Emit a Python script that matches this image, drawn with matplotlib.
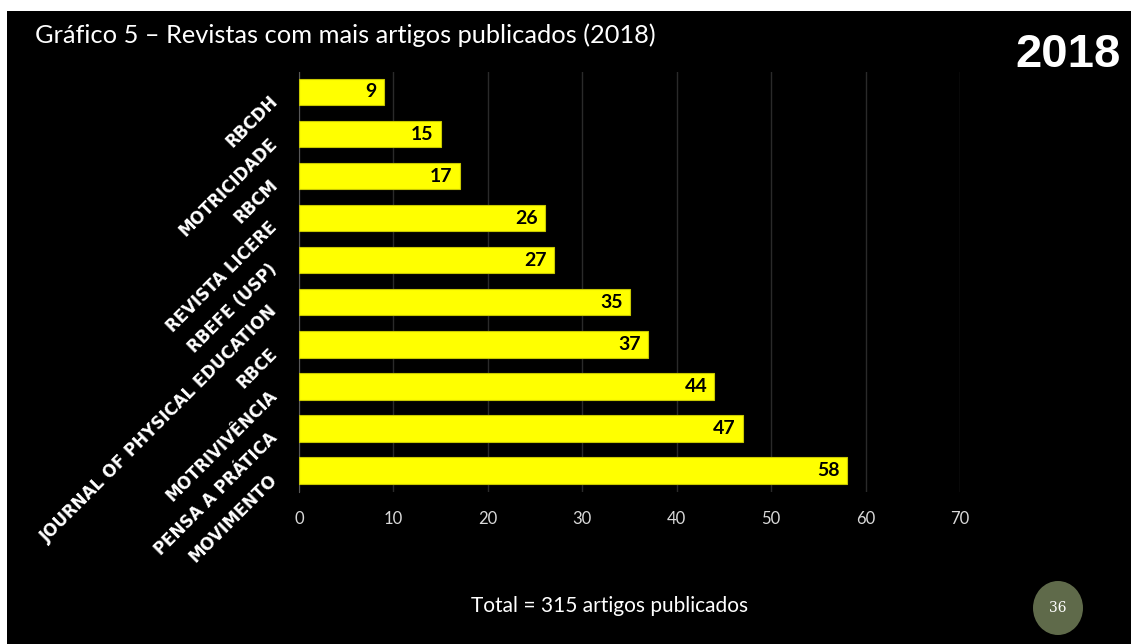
import matplotlib
matplotlib.use("Agg")
import matplotlib.pyplot as plt
from matplotlib.patches import Rectangle, Ellipse

revistas = ["RBCDH", "MOTRICIDADE", "RBCM", "REVISTA LICERE", "RBEFE (USP)",
            "JOURNAL OF PHYSICAL EDUCATION", "RBCE", "MOTRIVIVÊNCIA",
            "PENSA A PRÁTICA", "MOVIMENTO"]
artigos = [9, 15, 17, 26, 27, 35, 37, 44, 47, 58]
xticks = [0, 10, 20, 30, 40, 50, 60, 70]
titulo = "Gráfico 5 – Revistas com mais artigos publicados (2018)"
rodape = "Total = 315 artigos publicados"
pagina = "36"

W, H = 1131, 644
fig = plt.figure(figsize=(W / 100, H / 100), dpi=100, facecolor="white")
# fundo preto do slide (borda branca em cima e à esquerda)
fig.patches.append(Rectangle((7 / W, 0), 1 - 7 / W, 1 - 11 / H, transform=fig.transFigure,
                             facecolor="black", edgecolor="none", zorder=-10))

ax = fig.add_axes([299 / W, 1 - 492 / H, (960 - 299) / W, (492 - 72) / H])
ax.set_facecolor("black")
y = list(range(len(revistas)))
ax.barh(y, artigos, height=0.625, color="#ffff00", edgecolor="#c8c800", lw=0.8, zorder=3)
for yi, v in zip(y, artigos):
    ax.text(v - 0.75, yi, str(v), ha="right", va="center", fontsize=14,
            fontweight="bold", family="Lato", color="black", zorder=4)

ax.set_xlim(0, 70)
ax.set_ylim(9.51, -0.475)
ax.set_xticks(xticks)
ax.set_xticklabels([str(t) for t in xticks], family="Lato", fontsize=12, color="#d9d9d9")
ax.tick_params(axis="x", length=0, pad=14)
ax.set_yticks(y)
ax.set_yticklabels(revistas, rotation=45, ha="right", va="center", rotation_mode="anchor",
                   color="white")
for t in ax.get_yticklabels():
    t.set_fontfamily("DejaVu Sans")
    t.set_fontweight("bold")
    t.set_fontsize(12)
    t.set_verticalalignment("top")
ax.tick_params(axis="y", length=0, pad=22)
ax.grid(axis="x", color="#2a2a2a", lw=1, zorder=0)
for s in ["top", "right", "bottom"]:
    ax.spines[s].set_visible(False)
ax.spines["left"].set_color("#595959")

fig.text(35 / W, 1 - 35 / H, titulo, ha="left", va="center", fontsize=18.3,
         family="Lato", color="white")
fig.text(1121 / W, 1 - 55 / H, "2018", ha="right", va="center", fontsize=34,
         fontweight="bold", family="Liberation Sans", color="white")
fig.text(610 / W, 1 - 606 / H, rodape, ha="center", va="center", fontsize=15,
         family="Lato", color="white")
fig.patches.append(Ellipse((1058 / W, 1 - 608 / H), 50 / W, 54 / H, transform=fig.transFigure,
                           facecolor="#5f6a4a", edgecolor="none", zorder=1))
fig.text(1058 / W, 1 - 608 / H, pagina, ha="center", va="center", fontsize=10,
         family="DejaVu Serif", color="white", zorder=2)

fig.savefig("out.png", dpi=100, facecolor=fig.get_facecolor())
